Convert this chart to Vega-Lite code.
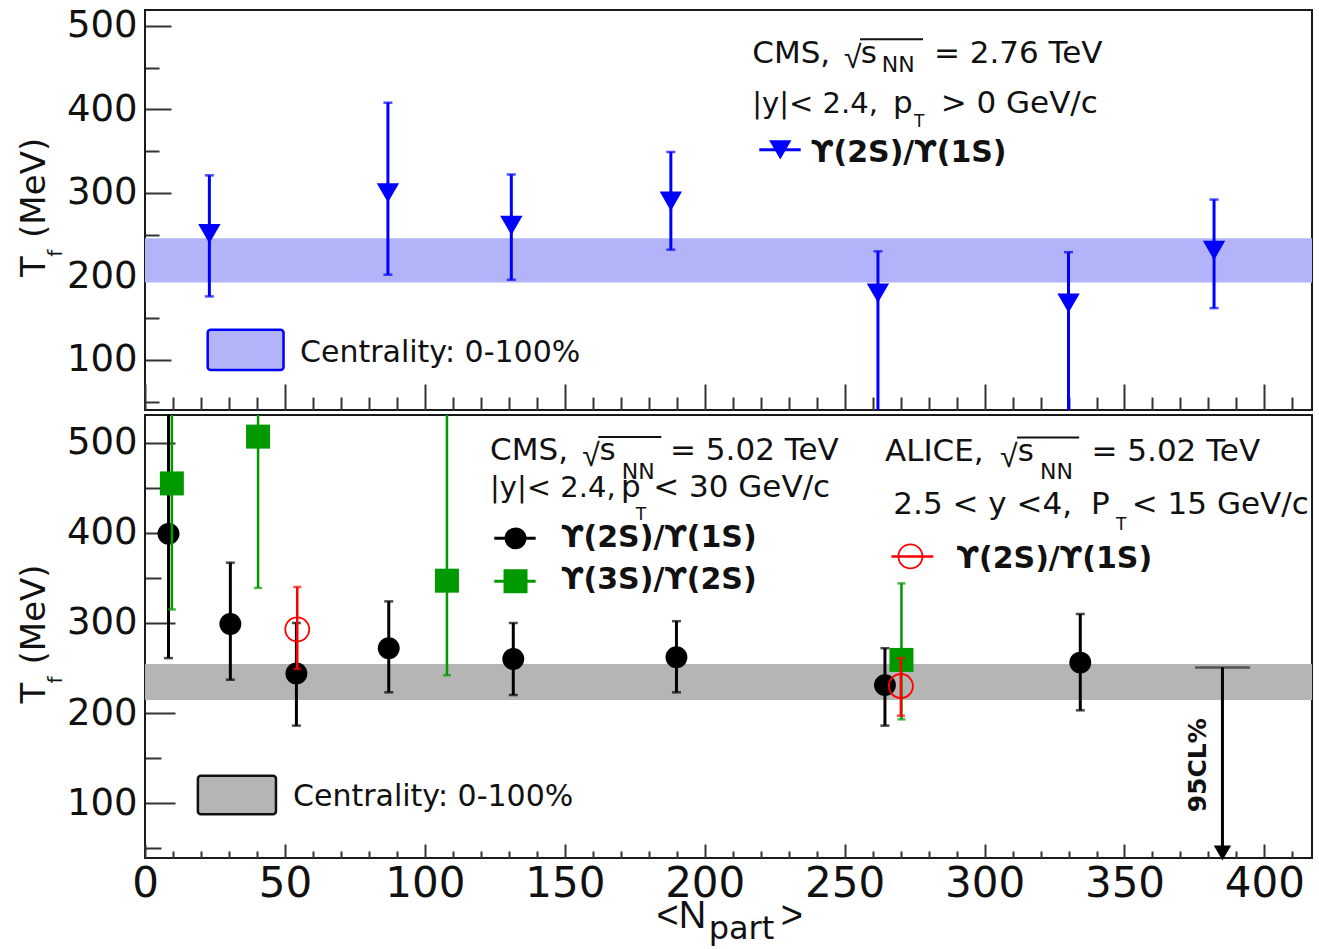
{
 "$schema": "https://vega.github.io/schema/vega-lite/v6.json",
 "padding": {"left": 16, "top": 5, "right": 0, "bottom": 0},
 "background": "white",
 "spacing": 5,
 "bounds": "flush",
 "config": {
  "view": {"stroke": "#1a1a1a", "strokeWidth": 2},
  "axis": {"grid": false, "domain": false, "tickColor": "#333333", "tickWidth": 2, "labelFont": "DejaVu Sans", "labelColor": "#111111", "labelFlush": false, "labelOverlap": false},
  "text": {"font": "DejaVu Sans", "fontSize": 31, "align": "left", "baseline": "alphabetic", "color": "#111111"}
 },
 "datasets": {
  "top": [
   {"x": 23.0, "y": 251, "lo": 176, "hi": 321},
   {"x": 86.8, "y": 300, "lo": 202, "hi": 408},
   {"x": 130.9, "y": 261, "lo": 196, "hi": 322},
   {"x": 187.9, "y": 290, "lo": 232, "hi": 349},
   {"x": 261.9, "y": 180, "lo": 0, "hi": 230},
   {"x": 330.0, "y": 168, "lo": 0, "hi": 229},
   {"x": 382.0, "y": 231, "lo": 162, "hi": 292}
  ],
  "topband": [{"lo": 192.6, "hi": 245.8}],
  "botband": [{"lo": 214.4, "hi": 254.4}],
  "b21": [
   {"x": 8.4, "y": 399, "lo": 261, "hi": 600},
   {"x": 30.5, "y": 299, "lo": 237, "hi": 367},
   {"x": 54.1, "y": 244, "lo": 186, "hi": 300},
   {"x": 87.1, "y": 272, "lo": 223, "hi": 324},
   {"x": 131.6, "y": 260, "lo": 220, "hi": 300},
   {"x": 189.9, "y": 262, "lo": 223, "hi": 302},
   {"x": 264.4, "y": 231, "lo": 186, "hi": 272},
   {"x": 334.2, "y": 256, "lo": 203, "hi": 310}
  ],
  "b32": [
   {"x": 9.6, "y": 455, "lo": 315, "hi": 600},
   {"x": 40.4, "y": 507, "lo": 339, "hi": 600},
   {"x": 107.9, "y": 347, "lo": 242, "hi": 600},
   {"x": 270.3, "y": 259, "lo": 193, "hi": 344}
  ],
  "alice": [
   {"x": 54.4, "y": 293, "lo": 249, "hi": 340},
   {"x": 270.1, "y": 230, "lo": 197, "hi": 261}
  ]
 },
 "vconcat": [
  {
   "width": 1167, "height": 400,
   "data": {"values": [{}]},
   "resolve": {"axis": {"x": "independent", "y": "independent"}},
   "layer": [
    {"data": {"name": "topband"}, "mark": {"type": "rect", "color": "#b3b3f9"},
     "encoding": {
      "x": {"datum": 0, "type": "quantitative", "scale": {"domain": [0, 417], "nice": false, "zero": false}, "axis": {"orient": "bottom", "values": [0,50,100,150,200,250,300,350,400], "tickSize": -26, "labels": false, "title": null}},
      "x2": {"datum": 417},
      "y": {"field": "lo", "type": "quantitative", "scale": {"domain": [40, 519], "nice": false, "zero": false}, "axis": {"orient": "left", "values": [100,200,300,400,500], "tickSize": -26, "labels": false, "title": null}},
      "y2": {"field": "hi"}}},
    {"mark": {"type": "rect", "fill": "#b3b3f9", "stroke": "#0000ff", "strokeWidth": 2.5, "cornerRadius": 3},
     "encoding": {
      "x": {"datum": 22.4, "type": "quantitative", "axis": {"orient": "bottom", "values": [10,20,30,40,60,70,80,90,110,120,130,140,160,170,180,190,210,220,230,240,260,270,280,290,310,320,330,340,360,370,380,390,410], "tickSize": -13, "labels": false, "title": null}},
      "x2": {"datum": 49.5},
      "y": {"datum": 88, "type": "quantitative", "axis": {"orient": "left", "values": [50,150,250,350,450], "tickSize": -14, "labels": false, "title": null}},
      "y2": {"datum": 136}}},
    {"mark": {"type": "text", "text": "Centrality: 0-100%", "fontSize": 30},
     "encoding": {"x": {"datum": 55.4, "type": "quantitative", "axis": null}, "y": {"datum": 98, "type": "quantitative", "axis": {"orient": "left", "values": [100,200,300,400,500], "ticks": false, "tickSize": 0, "labelPadding": 8, "labelFontSize": 37, "title": null}}}},
    {"data": {"name": "top"}, "mark": {"type": "rule", "color": "#0000ff", "strokeWidth": 3, "clip": true},
     "encoding": {"x": {"field": "x", "type": "quantitative", "axis": null}, "y": {"field": "lo", "type": "quantitative", "axis": null}, "y2": {"field": "hi"}}},
    {"data": {"name": "top"}, "transform": [{"fold": ["lo", "hi"], "as": ["end", "v"]}], "mark": {"type": "tick", "orient": "horizontal", "color": "#0000ff", "size": 9, "thickness": 2.5, "clip": true},
     "encoding": {"x": {"field": "x", "type": "quantitative", "axis": null}, "y": {"field": "v", "type": "quantitative", "axis": null}}},
    {"data": {"name": "top"}, "mark": {"type": "point", "shape": "triangle-down", "filled": true, "color": "#0000ff", "size": 500, "opacity": 1},
     "encoding": {"x": {"field": "x", "type": "quantitative", "axis": null}, "y": {"field": "y", "type": "quantitative", "axis": null}}},
    {"mark": {"type": "text", "text": "CMS,"}, "encoding": {"x": {"datum": 217.0, "type": "quantitative", "axis": null}, "y": {"datum": 455.3, "type": "quantitative", "axis": null}}},
    {"mark": {"type": "text", "text": "√", "font": "Liberation Sans", "fontSize": 32}, "encoding": {"x": {"datum": 249.8, "type": "quantitative", "axis": null}, "y": {"datum": 449, "type": "quantitative", "axis": null}}},
    {"mark": {"type": "text", "text": "s"}, "encoding": {"x": {"datum": 255.8, "type": "quantitative", "axis": null}, "y": {"datum": 455.3, "type": "quantitative", "axis": null}}},
    {"mark": {"type": "text", "text": "NN", "fontSize": 22}, "encoding": {"x": {"datum": 263.3, "type": "quantitative", "axis": null}, "y": {"datum": 445.0, "type": "quantitative", "axis": null}}},
    {"mark": {"type": "text", "text": "= 2.76 TeV"}, "encoding": {"x": {"datum": 281.9, "type": "quantitative", "axis": null}, "y": {"datum": 455.3, "type": "quantitative", "axis": null}}},
    {"mark": {"type": "rule", "color": "#111111", "strokeWidth": 2}, "encoding": {"x": {"datum": 255.5, "type": "quantitative", "axis": null}, "x2": {"datum": 278.0}, "y": {"datum": 484.1, "type": "quantitative", "axis": null}}},
    {"mark": {"type": "text", "text": "|y|< 2.4,", "fontSize": 29}, "encoding": {"x": {"datum": 217.0, "type": "quantitative", "axis": null}, "y": {"datum": 395.4, "type": "quantitative", "axis": null}}},
    {"mark": {"type": "text", "text": "p"}, "encoding": {"x": {"datum": 267.3, "type": "quantitative", "axis": null}, "y": {"datum": 395.4, "type": "quantitative", "axis": null}}},
    {"mark": {"type": "text", "text": "T", "fontSize": 17}, "encoding": {"x": {"datum": 274.8, "type": "quantitative", "axis": null}, "y": {"datum": 379.4, "type": "quantitative", "axis": null}}},
    {"mark": {"type": "text", "text": "> 0 GeV/c"}, "encoding": {"x": {"datum": 284.3, "type": "quantitative", "axis": null}, "y": {"datum": 395.4, "type": "quantitative", "axis": null}}},
    {"mark": {"type": "rule", "color": "#0000ff", "strokeWidth": 3}, "encoding": {"x": {"datum": 219.5, "type": "quantitative", "axis": null}, "x2": {"datum": 234.3}, "y": {"datum": 351.5, "type": "quantitative", "axis": null}}},
    {"mark": {"type": "point", "shape": "triangle-down", "filled": true, "color": "#0000ff", "size": 500, "opacity": 1}, "encoding": {"x": {"datum": 227, "type": "quantitative", "axis": null}, "y": {"datum": 351.5, "type": "quantitative", "axis": null}}},
    {"mark": {"type": "text", "text": "ϒ(2S)/ϒ(1S)", "fontWeight": "bold", "fontSize": 30}, "encoding": {"x": {"datum": 238, "type": "quantitative", "axis": null}, "y": {"datum": 337.5, "type": "quantitative", "axis": null}}},
    {"mark": {"type": "text", "text": "T", "fontSize": 34, "angle": 270}, "encoding": {"x": {"datum": -35.84, "type": "quantitative", "axis": null}, "y": {"datum": 199.4, "type": "quantitative", "axis": null}}},
    {"mark": {"type": "text", "text": "f", "fontSize": 20, "angle": 270}, "encoding": {"x": {"datum": -29.75, "type": "quantitative", "axis": null}, "y": {"datum": 223.4, "type": "quantitative", "axis": null}}},
    {"mark": {"type": "text", "text": "(MeV)", "fontSize": 34, "angle": 270}, "encoding": {"x": {"datum": -35.84, "type": "quantitative", "axis": null}, "y": {"datum": 246.1, "type": "quantitative", "axis": null}}}
   ]
  },
  {
   "width": 1167, "height": 443,
   "data": {"values": [{}]},
   "resolve": {"axis": {"x": "independent", "y": "independent"}},
   "layer": [
    {"data": {"name": "botband"}, "mark": {"type": "rect", "color": "#b5b5b5"},
     "encoding": {
      "x": {"datum": 0, "type": "quantitative", "scale": {"domain": [0, 417], "nice": false, "zero": false}, "axis": {"orient": "bottom", "values": [0,50,100,150,200,250,300,350,400], "tickSize": -14, "labels": false, "title": null}},
      "x2": {"datum": 417},
      "y": {"field": "lo", "type": "quantitative", "scale": {"domain": [39, 531], "nice": false, "zero": false}, "axis": {"orient": "left", "values": [100,200,300,400,500], "tickSize": -30, "labels": false, "title": null}},
      "y2": {"field": "hi"}}},
    {"mark": {"type": "rect", "fill": "#b5b5b5", "stroke": "#111111", "strokeWidth": 2.5, "cornerRadius": 3},
     "encoding": {
      "x": {"datum": 18.9, "type": "quantitative", "axis": {"orient": "bottom", "values": [10,20,30,40,60,70,80,90,110,120,130,140,160,170,180,190,210,220,230,240,260,270,280,290,310,320,330,340,360,370,380,390,410], "tickSize": -7, "labels": false, "title": null}},
      "x2": {"datum": 46.8},
      "y": {"datum": 87.6, "type": "quantitative", "axis": {"orient": "left", "values": [50,150,250,350,450], "tickSize": -16, "labels": false, "title": null}},
      "y2": {"datum": 130.3}}},
    {"mark": {"type": "text", "text": "Centrality: 0-100%", "fontSize": 30},
     "encoding": {"x": {"datum": 52.9, "type": "quantitative", "axis": {"orient": "bottom", "values": [0,50,100,150,200,250,300,350,400], "ticks": false, "tickSize": 0, "labelPadding": 5, "labelFontSize": 42, "title": null}}, "y": {"datum": 97.3, "type": "quantitative", "axis": {"orient": "left", "values": [100,200,300,400,500], "ticks": false, "tickSize": 0, "labelPadding": 8, "labelFontSize": 37, "title": null}}}},
    {"data": {"name": "b21"}, "mark": {"type": "rule", "color": "#000000", "strokeWidth": 3, "clip": true},
     "encoding": {"x": {"field": "x", "type": "quantitative", "axis": null}, "y": {"field": "lo", "type": "quantitative", "axis": null}, "y2": {"field": "hi"}}},
    {"data": {"name": "b21"}, "transform": [{"fold": ["lo", "hi"], "as": ["end", "v"]}], "mark": {"type": "tick", "orient": "horizontal", "color": "#000000", "size": 9, "thickness": 2.5, "clip": true},
     "encoding": {"x": {"field": "x", "type": "quantitative", "axis": null}, "y": {"field": "v", "type": "quantitative", "axis": null}}},
    {"data": {"name": "b21"}, "mark": {"type": "point", "shape": "circle", "filled": true, "color": "#000000", "size": 480, "opacity": 1},
     "encoding": {"x": {"field": "x", "type": "quantitative", "axis": null}, "y": {"field": "y", "type": "quantitative", "axis": null}}},
    {"data": {"name": "b32"}, "mark": {"type": "rule", "color": "#009a00", "strokeWidth": 2.5, "clip": true},
     "encoding": {"x": {"field": "x", "type": "quantitative", "axis": null}, "y": {"field": "lo", "type": "quantitative", "axis": null}, "y2": {"field": "hi"}}},
    {"data": {"name": "b32"}, "transform": [{"fold": ["lo", "hi"], "as": ["end", "v"]}], "mark": {"type": "tick", "orient": "horizontal", "color": "#009a00", "size": 8, "thickness": 2.5, "clip": true},
     "encoding": {"x": {"field": "x", "type": "quantitative", "axis": null}, "y": {"field": "v", "type": "quantitative", "axis": null}}},
    {"data": {"name": "b32"}, "mark": {"type": "point", "shape": "square", "filled": true, "color": "#009a00", "size": 576, "opacity": 1},
     "encoding": {"x": {"field": "x", "type": "quantitative", "axis": null}, "y": {"field": "y", "type": "quantitative", "axis": null}}},
    {"data": {"name": "alice"}, "mark": {"type": "rule", "color": "#ff0000", "strokeWidth": 2.5, "clip": true},
     "encoding": {"x": {"field": "x", "type": "quantitative", "axis": null}, "y": {"field": "lo", "type": "quantitative", "axis": null}, "y2": {"field": "hi"}}},
    {"data": {"name": "alice"}, "transform": [{"fold": ["lo", "hi"], "as": ["end", "v"]}], "mark": {"type": "tick", "orient": "horizontal", "color": "#ff0000", "size": 8, "thickness": 2.5, "clip": true},
     "encoding": {"x": {"field": "x", "type": "quantitative", "axis": null}, "y": {"field": "v", "type": "quantitative", "axis": null}}},
    {"data": {"name": "alice"}, "mark": {"type": "point", "shape": "circle", "filled": false, "color": "#ff0000", "strokeWidth": 1.8, "size": 576, "opacity": 1},
     "encoding": {"x": {"field": "x", "type": "quantitative", "axis": null}, "y": {"field": "y", "type": "quantitative", "axis": null}}},
    {"mark": {"type": "text", "text": "CMS,"}, "encoding": {"x": {"datum": 123.3, "type": "quantitative", "axis": null}, "y": {"datum": 480.8, "type": "quantitative", "axis": null}}},
    {"mark": {"type": "text", "text": "√", "font": "Liberation Sans", "fontSize": 32}, "encoding": {"x": {"datum": 156.2, "type": "quantitative", "axis": null}, "y": {"datum": 474.8, "type": "quantitative", "axis": null}}},
    {"mark": {"type": "text", "text": "s"}, "encoding": {"x": {"datum": 162.4, "type": "quantitative", "axis": null}, "y": {"datum": 480.8, "type": "quantitative", "axis": null}}},
    {"mark": {"type": "text", "text": "NN", "fontSize": 22}, "encoding": {"x": {"datum": 170.4, "type": "quantitative", "axis": null}, "y": {"datum": 460.2, "type": "quantitative", "axis": null}}},
    {"mark": {"type": "text", "text": "= 5.02 TeV"}, "encoding": {"x": {"datum": 187.6, "type": "quantitative", "axis": null}, "y": {"datum": 480.8, "type": "quantitative", "axis": null}}},
    {"mark": {"type": "rule", "color": "#111111", "strokeWidth": 2}, "encoding": {"x": {"datum": 162.0, "type": "quantitative", "axis": null}, "x2": {"datum": 184.5}, "y": {"datum": 506.6, "type": "quantitative", "axis": null}}},
    {"mark": {"type": "text", "text": "|y|< 2.4,", "fontSize": 29}, "encoding": {"x": {"datum": 123.3, "type": "quantitative", "axis": null}, "y": {"datum": 440.2, "type": "quantitative", "axis": null}}},
    {"mark": {"type": "text", "text": "p"}, "encoding": {"x": {"datum": 170.1, "type": "quantitative", "axis": null}, "y": {"datum": 440.2, "type": "quantitative", "axis": null}}},
    {"mark": {"type": "text", "text": "T", "fontSize": 17}, "encoding": {"x": {"datum": 175.4, "type": "quantitative", "axis": null}, "y": {"datum": 414.4, "type": "quantitative", "axis": null}}},
    {"mark": {"type": "text", "text": "< 30 GeV/c"}, "encoding": {"x": {"datum": 181.6, "type": "quantitative", "axis": null}, "y": {"datum": 440.2, "type": "quantitative", "axis": null}}},
    {"mark": {"type": "text", "text": "ALICE,"}, "encoding": {"x": {"datum": 264.4, "type": "quantitative", "axis": null}, "y": {"datum": 479.4, "type": "quantitative", "axis": null}}},
    {"mark": {"type": "text", "text": "√", "font": "Liberation Sans", "fontSize": 32}, "encoding": {"x": {"datum": 305.5, "type": "quantitative", "axis": null}, "y": {"datum": 473.4, "type": "quantitative", "axis": null}}},
    {"mark": {"type": "text", "text": "s"}, "encoding": {"x": {"datum": 311.9, "type": "quantitative", "axis": null}, "y": {"datum": 479.4, "type": "quantitative", "axis": null}}},
    {"mark": {"type": "text", "text": "NN", "fontSize": 22}, "encoding": {"x": {"datum": 319.8, "type": "quantitative", "axis": null}, "y": {"datum": 459.8, "type": "quantitative", "axis": null}}},
    {"mark": {"type": "text", "text": "= 5.02 TeV"}, "encoding": {"x": {"datum": 338.2, "type": "quantitative", "axis": null}, "y": {"datum": 479.4, "type": "quantitative", "axis": null}}},
    {"mark": {"type": "rule", "color": "#111111", "strokeWidth": 2}, "encoding": {"x": {"datum": 311.6, "type": "quantitative", "axis": null}, "x2": {"datum": 333.8}, "y": {"datum": 506.0, "type": "quantitative", "axis": null}}},
    {"mark": {"type": "text", "text": "2.5 < y <4,"}, "encoding": {"x": {"datum": 267.4, "type": "quantitative", "axis": null}, "y": {"datum": 421.2, "type": "quantitative", "axis": null}}},
    {"mark": {"type": "text", "text": "P"}, "encoding": {"x": {"datum": 338.0, "type": "quantitative", "axis": null}, "y": {"datum": 421.2, "type": "quantitative", "axis": null}}},
    {"mark": {"type": "text", "text": "T", "fontSize": 17}, "encoding": {"x": {"datum": 347.0, "type": "quantitative", "axis": null}, "y": {"datum": 403.3, "type": "quantitative", "axis": null}}},
    {"mark": {"type": "text", "text": "< 15 GeV/c"}, "encoding": {"x": {"datum": 352.6, "type": "quantitative", "axis": null}, "y": {"datum": 421.2, "type": "quantitative", "axis": null}}},
    {"mark": {"type": "rule", "color": "#000000", "strokeWidth": 3}, "encoding": {"x": {"datum": 124.8, "type": "quantitative", "axis": null}, "x2": {"datum": 139.6}, "y": {"datum": 394, "type": "quantitative", "axis": null}}},
    {"mark": {"type": "point", "shape": "circle", "filled": true, "color": "#000000", "size": 480, "opacity": 1}, "encoding": {"x": {"datum": 132.4, "type": "quantitative", "axis": null}, "y": {"datum": 394, "type": "quantitative", "axis": null}}},
    {"mark": {"type": "text", "text": "ϒ(2S)/ϒ(1S)", "fontWeight": "bold", "fontSize": 30}, "encoding": {"x": {"datum": 148.7, "type": "quantitative", "axis": null}, "y": {"datum": 384.4, "type": "quantitative", "axis": null}}},
    {"mark": {"type": "rule", "color": "#009a00", "strokeWidth": 3}, "encoding": {"x": {"datum": 124.8, "type": "quantitative", "axis": null}, "x2": {"datum": 139.6}, "y": {"datum": 346.4, "type": "quantitative", "axis": null}}},
    {"mark": {"type": "point", "shape": "square", "filled": true, "color": "#009a00", "size": 576, "opacity": 1}, "encoding": {"x": {"datum": 132.4, "type": "quantitative", "axis": null}, "y": {"datum": 346.4, "type": "quantitative", "axis": null}}},
    {"mark": {"type": "text", "text": "ϒ(3S)/ϒ(2S)", "fontWeight": "bold", "fontSize": 30}, "encoding": {"x": {"datum": 148.7, "type": "quantitative", "axis": null}, "y": {"datum": 337.9, "type": "quantitative", "axis": null}}},
    {"mark": {"type": "rule", "color": "#ff0000", "strokeWidth": 2.5}, "encoding": {"x": {"datum": 266.7, "type": "quantitative", "axis": null}, "x2": {"datum": 281.7}, "y": {"datum": 373.9, "type": "quantitative", "axis": null}}},
    {"mark": {"type": "point", "shape": "circle", "filled": false, "color": "#ff0000", "strokeWidth": 1.8, "size": 576, "opacity": 1}, "encoding": {"x": {"datum": 273.5, "type": "quantitative", "axis": null}, "y": {"datum": 373.9, "type": "quantitative", "axis": null}}},
    {"mark": {"type": "text", "text": "ϒ(2S)/ϒ(1S)", "fontWeight": "bold", "fontSize": 30}, "encoding": {"x": {"datum": 290, "type": "quantitative", "axis": null}, "y": {"datum": 361, "type": "quantitative", "axis": null}}},
    {"mark": {"type": "rule", "color": "#555555", "strokeWidth": 2.5}, "encoding": {"x": {"datum": 375.2, "type": "quantitative", "axis": null}, "x2": {"datum": 394.9}, "y": {"datum": 250.7, "type": "quantitative", "axis": null}}},
    {"mark": {"type": "rule", "color": "#000000", "strokeWidth": 3}, "encoding": {"x": {"datum": 385, "type": "quantitative", "axis": null}, "y": {"datum": 250.7, "type": "quantitative", "axis": null}, "y2": {"datum": 47}}},
    {"mark": {"type": "point", "shape": "triangle-down", "filled": true, "color": "#000000", "size": 300, "opacity": 1}, "encoding": {"x": {"datum": 385, "type": "quantitative", "axis": null}, "y": {"datum": 44.5, "type": "quantitative", "axis": null}}},
    {"mark": {"type": "text", "text": "95CL%", "fontWeight": "bold", "fontSize": 25, "angle": 270}, "encoding": {"x": {"datum": 379.2, "type": "quantitative", "axis": null}, "y": {"datum": 89.7, "type": "quantitative", "axis": null}}},
    {"mark": {"type": "text", "text": "T", "fontSize": 34, "angle": 270}, "encoding": {"x": {"datum": -35.84, "type": "quantitative", "axis": null}, "y": {"datum": 210.7, "type": "quantitative", "axis": null}}},
    {"mark": {"type": "text", "text": "f", "fontSize": 20, "angle": 270}, "encoding": {"x": {"datum": -29.75, "type": "quantitative", "axis": null}, "y": {"datum": 232.9, "type": "quantitative", "axis": null}}},
    {"mark": {"type": "text", "text": "(MeV)", "fontSize": 34, "angle": 270}, "encoding": {"x": {"datum": -35.84, "type": "quantitative", "axis": null}, "y": {"datum": 254, "type": "quantitative", "axis": null}}},
    {"mark": {"type": "text", "text": "<N", "font": "Liberation Sans", "fontSize": 38}, "encoding": {"x": {"datum": 182.8, "type": "quantitative", "axis": null}, "y": {"datum": -38.8, "type": "quantitative", "axis": null}}},
    {"mark": {"type": "text", "text": "part", "fontSize": 32}, "encoding": {"x": {"datum": 201.4, "type": "quantitative", "axis": null}, "y": {"datum": -51.0, "type": "quantitative", "axis": null}}},
    {"mark": {"type": "text", "text": ">", "font": "Liberation Sans", "fontSize": 38}, "encoding": {"x": {"datum": 227.2, "type": "quantitative", "axis": null}, "y": {"datum": -38.8, "type": "quantitative", "axis": null}}}
   ]
  }
 ]
}
